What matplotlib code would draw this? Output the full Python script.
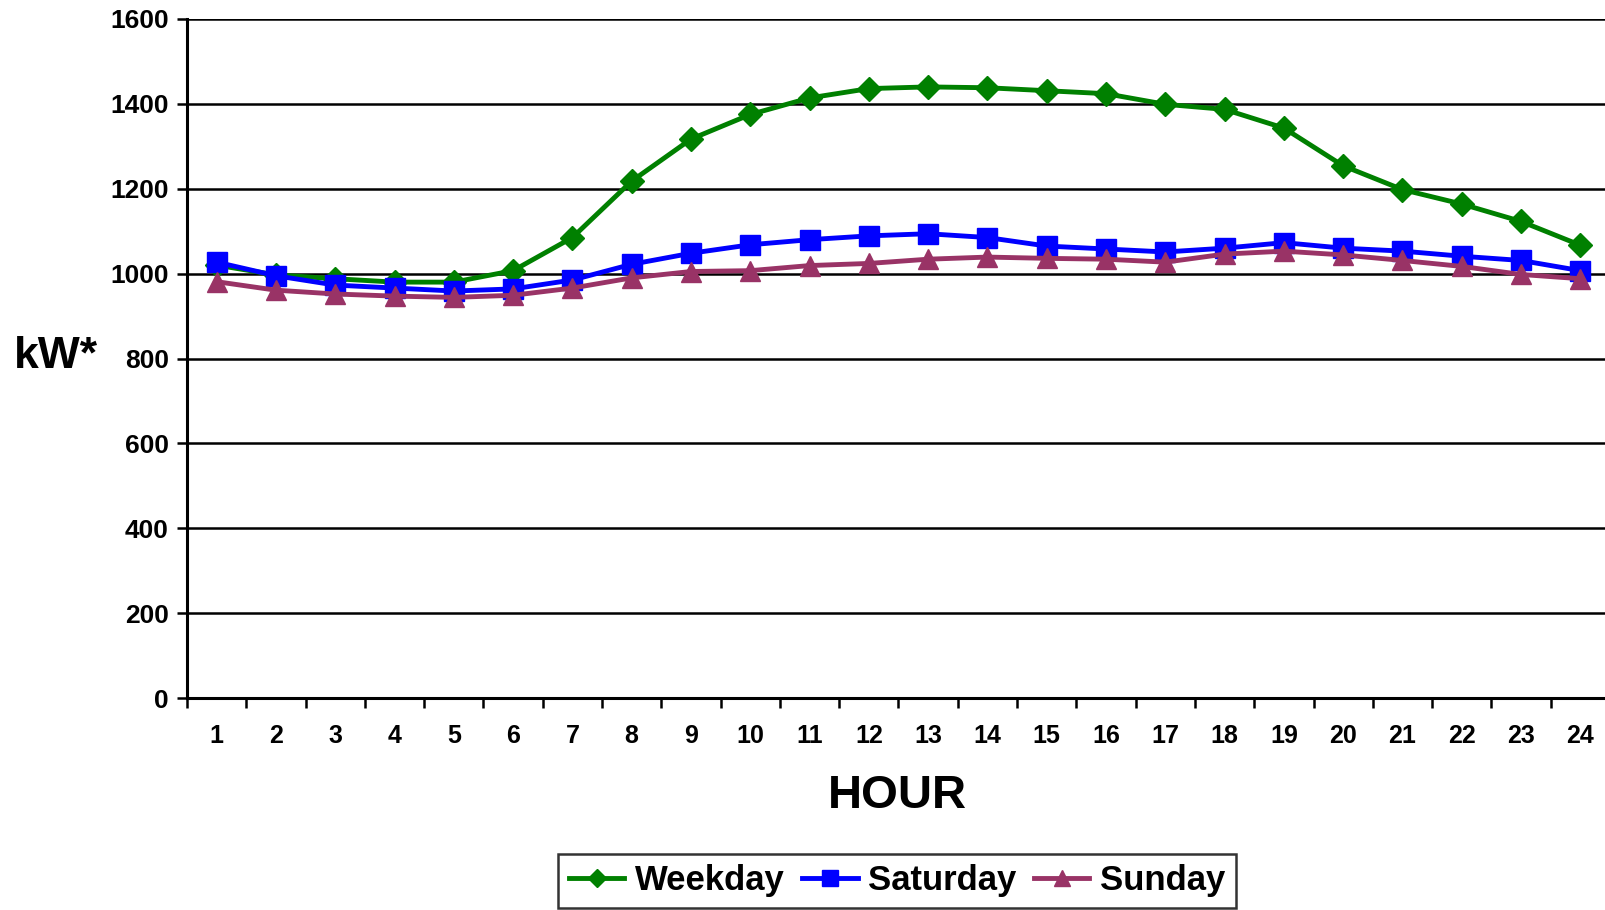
import matplotlib
matplotlib.use("Agg")
import matplotlib.pyplot as plt
from matplotlib.ticker import FixedLocator

hours = list(range(1, 25))
hour_labels = [str(h) for h in hours]
weekday = [1020, 997, 988, 980, 980, 1007, 1085, 1218, 1317, 1375, 1414, 1436,
           1440, 1438, 1431, 1424, 1399, 1387, 1343, 1254, 1198, 1164, 1123, 1067]
saturday = [1027, 995, 973, 966, 959, 964, 985, 1022, 1048, 1068, 1080, 1089,
            1094, 1085, 1065, 1058, 1051, 1060, 1073, 1060, 1053, 1041, 1031, 1007]
sunday = [981, 961, 952, 947, 944, 949, 966, 990, 1005, 1007, 1019, 1024,
          1034, 1039, 1036, 1034, 1027, 1046, 1053, 1044, 1031, 1017, 998, 988]
y_ticks = [0, 200, 400, 600, 800, 1000, 1200, 1400, 1600]

plt.rcParams['font.family'] = ['Liberation Sans', 'DejaVu Sans']
plt.rcParams['font.weight'] = 'bold'

fig = plt.figure(figsize=(16.06, 9.10), dpi=100)
ax = fig.add_axes([187/1606, 1-698/910, (1610-187)/1606, (698-19)/910])

ax.plot(hours, weekday, color='#008000', lw=3.5, marker='D', ms=12, label='Weekday', clip_on=False, zorder=5)
ax.plot(hours, saturday, color='#0000FF', lw=3.5, marker='s', ms=14, label='Saturday', clip_on=False, zorder=6)
ax.plot(hours, sunday, color='#993366', lw=3.5, marker='^', ms=14, label='Sunday', clip_on=False, zorder=7)

ax.set_xlim(0.5, 24.5)
ax.set_ylim(0, 1600)
ax.set_yticks(y_ticks)
ax.set_yticklabels([str(v) for v in y_ticks], fontsize=19, fontweight='bold')
ax.grid(axis='y', color='black', lw=1.8, zorder=1)
ax.set_axisbelow(True)

ax.xaxis.set_major_locator(FixedLocator([h + 0.5 for h in [0] + hours]))
ax.xaxis.set_major_formatter(plt.NullFormatter())
ax.xaxis.set_minor_locator(FixedLocator(hours))
ax.set_xticklabels(hour_labels, minor=True, fontsize=18, fontweight='bold')
ax.tick_params(axis='x', which='minor', length=0, pad=19)
ax.tick_params(axis='x', which='major', length=7, width=1.8, direction='out')
ax.tick_params(axis='y', length=7, width=1.8, direction='out', pad=6)

for s in ['top', 'right']:
    ax.spines[s].set_visible(False)
for s in ['left', 'bottom']:
    ax.spines[s].set_linewidth(2.2)

fig.text(14/1606, 1-357/910, 'kW*', fontsize=32, fontweight='bold', ha='left', va='center')
fig.text(897/1606, 1-796/910, 'HOUR', fontsize=34, fontweight='bold', ha='center', va='center')

leg = fig.legend(loc='upper center', bbox_to_anchor=(897/1606, 1-854/910), ncol=3,
                 prop={'size': 25, 'weight': 'bold'}, frameon=True, fancybox=False,
                 edgecolor='black', handlelength=1.6, handletextpad=0.3, columnspacing=0.5,
                 borderpad=0.3, borderaxespad=0, markerscale=0.8)
leg.get_frame().set_linewidth(1.8)

fig.savefig('out.png', dpi=100)
